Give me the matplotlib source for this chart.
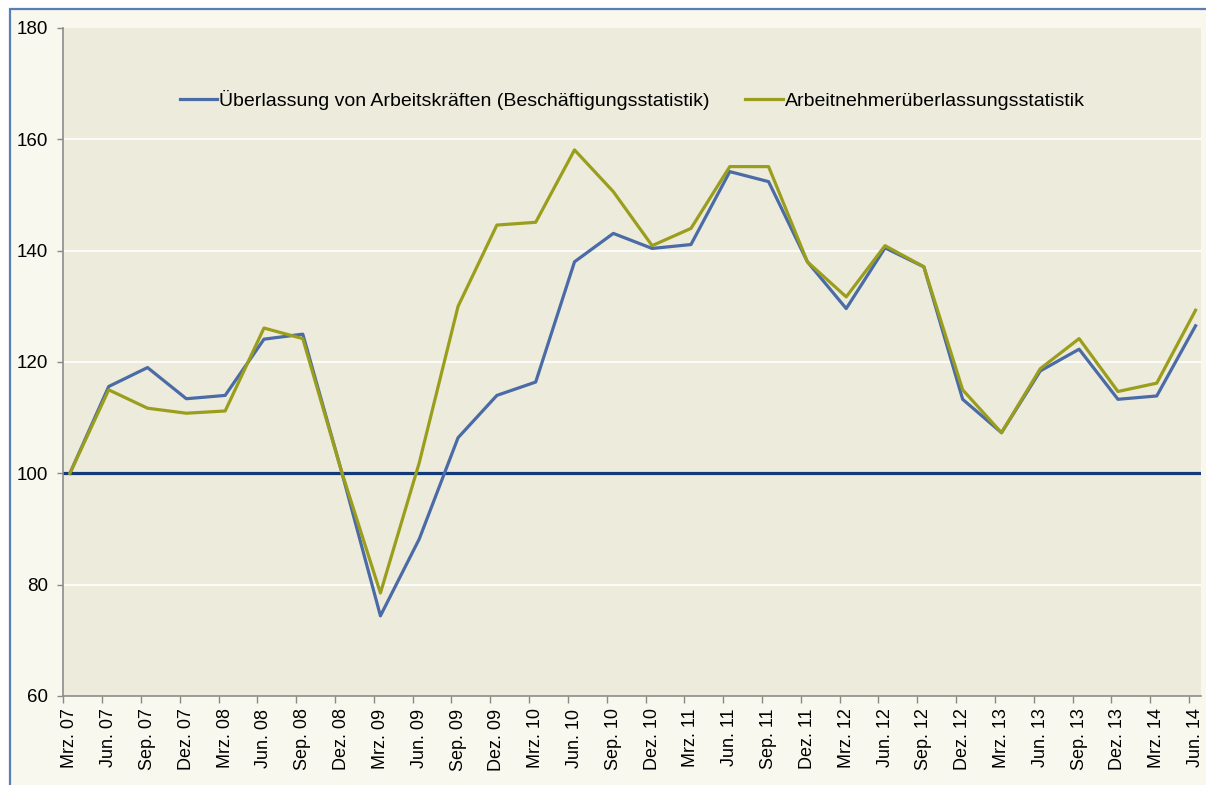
import matplotlib.pyplot as plt
from matplotlib.patches import Rectangle
import numpy as np

# Daten (Index, Mrz. 07 = 100)
quartale = ['Mrz. 07', 'Jun. 07', 'Sep. 07', 'Dez. 07', 'Mrz. 08', 'Jun. 08', 'Sep. 08', 'Dez. 08',
            'Mrz. 09', 'Jun. 09', 'Sep. 09', 'Dez. 09', 'Mrz. 10', 'Jun. 10', 'Sep. 10', 'Dez. 10',
            'Mrz. 11', 'Jun. 11', 'Sep. 11', 'Dez. 11', 'Mrz. 12', 'Jun. 12', 'Sep. 12', 'Dez. 12',
            'Mrz. 13', 'Jun. 13', 'Sep. 13', 'Dez. 13', 'Mrz. 14', 'Jun. 14']
beschaeftigung = [100.0, 115.6, 119.0, 113.4, 114.0, 124.1, 125.0, 100.3,
                  74.4, 88.2, 106.4, 114.0, 116.4, 138.0, 143.1, 140.4,
                  141.1, 154.2, 152.4, 138.0, 129.6, 140.5, 137.1, 113.3,
                  107.3, 118.4, 122.3, 113.3, 113.9, 126.5]
aue_statistik = [100.0, 115.0, 111.7, 110.8, 111.2, 126.1, 124.2, 100.3,
                 78.5, 101.9, 130.0, 144.6, 145.1, 158.1, 150.6, 140.9,
                 144.0, 155.1, 155.1, 138.0, 131.7, 140.9, 137.1, 115.0,
                 107.3, 118.8, 124.2, 114.7, 116.2, 129.3]
label_blau = 'Überlassung von Arbeitskräften (Beschäftigungsstatistik)'
label_oliv = 'Arbeitnehmerüberlassungsstatistik'

plt.rcParams['font.family'] = ['Liberation Sans', 'DejaVu Sans']

fig = plt.figure(figsize=(12.06, 7.85), dpi=100)
fig.patch.set_facecolor('white')

# Rahmen des Diagrammbereichs
fig.patches.append(Rectangle((10 / 1206, -0.05), 1.0, 1 - 9 / 785 + 0.05,
                             transform=fig.transFigure, facecolor='#F8F8EE',
                             edgecolor='#5A7DB5', linewidth=1.6, zorder=-10))

ax = fig.add_axes([63.3 / 1206, 1 - 696 / 785, (1201 - 63.3) / 1206, (696 - 28) / 785])
ax.set_facecolor('#EDEBDC')

x = np.arange(len(quartale))
ax.set_ylim(60, 180)
ax.set_xlim(-0.17, 29.14)

for v in [80, 120, 140, 160]:
    ax.axhline(v, color='white', lw=1.2, zorder=1)
ax.axhline(100, color='#12397A', lw=2.3, zorder=2)

ax.plot(x, beschaeftigung, color='#4A6BA5', lw=2.3, label=label_blau, zorder=3)
ax.plot(x, aue_statistik, color='#9A9E1C', lw=2.3, label=label_oliv, zorder=4)

ax.set_yticks([60, 80, 100, 120, 140, 160, 180])
ax.tick_params(axis='y', labelsize=13.5, length=4, color='#888888', width=1, pad=7)

# Teilstriche zwischen den Punkten, Beschriftung auf den Punkten
ax.set_xticks(x - 0.17)
ax.set_xticklabels([])
ax.tick_params(axis='x', which='major', length=5, color='#888888', width=1)
ax.set_xticks(x, minor=True)
ax.set_xticklabels(quartale, minor=True, rotation=90, fontsize=13)
ax.tick_params(axis='x', which='minor', length=0, pad=9)

for s in ['top', 'right']:
    ax.spines[s].set_visible(False)
for s in ['left', 'bottom']:
    ax.spines[s].set_color('#8C8C8C')
    ax.spines[s].set_linewidth(1.2)

ax.legend(loc='center', bbox_to_anchor=(0.5, 0.892), ncol=2, frameon=False,
          fontsize=14, handlelength=1.95, handletextpad=0.1, columnspacing=1.8)

plt.savefig('out.png', dpi=100, facecolor=fig.get_facecolor())
